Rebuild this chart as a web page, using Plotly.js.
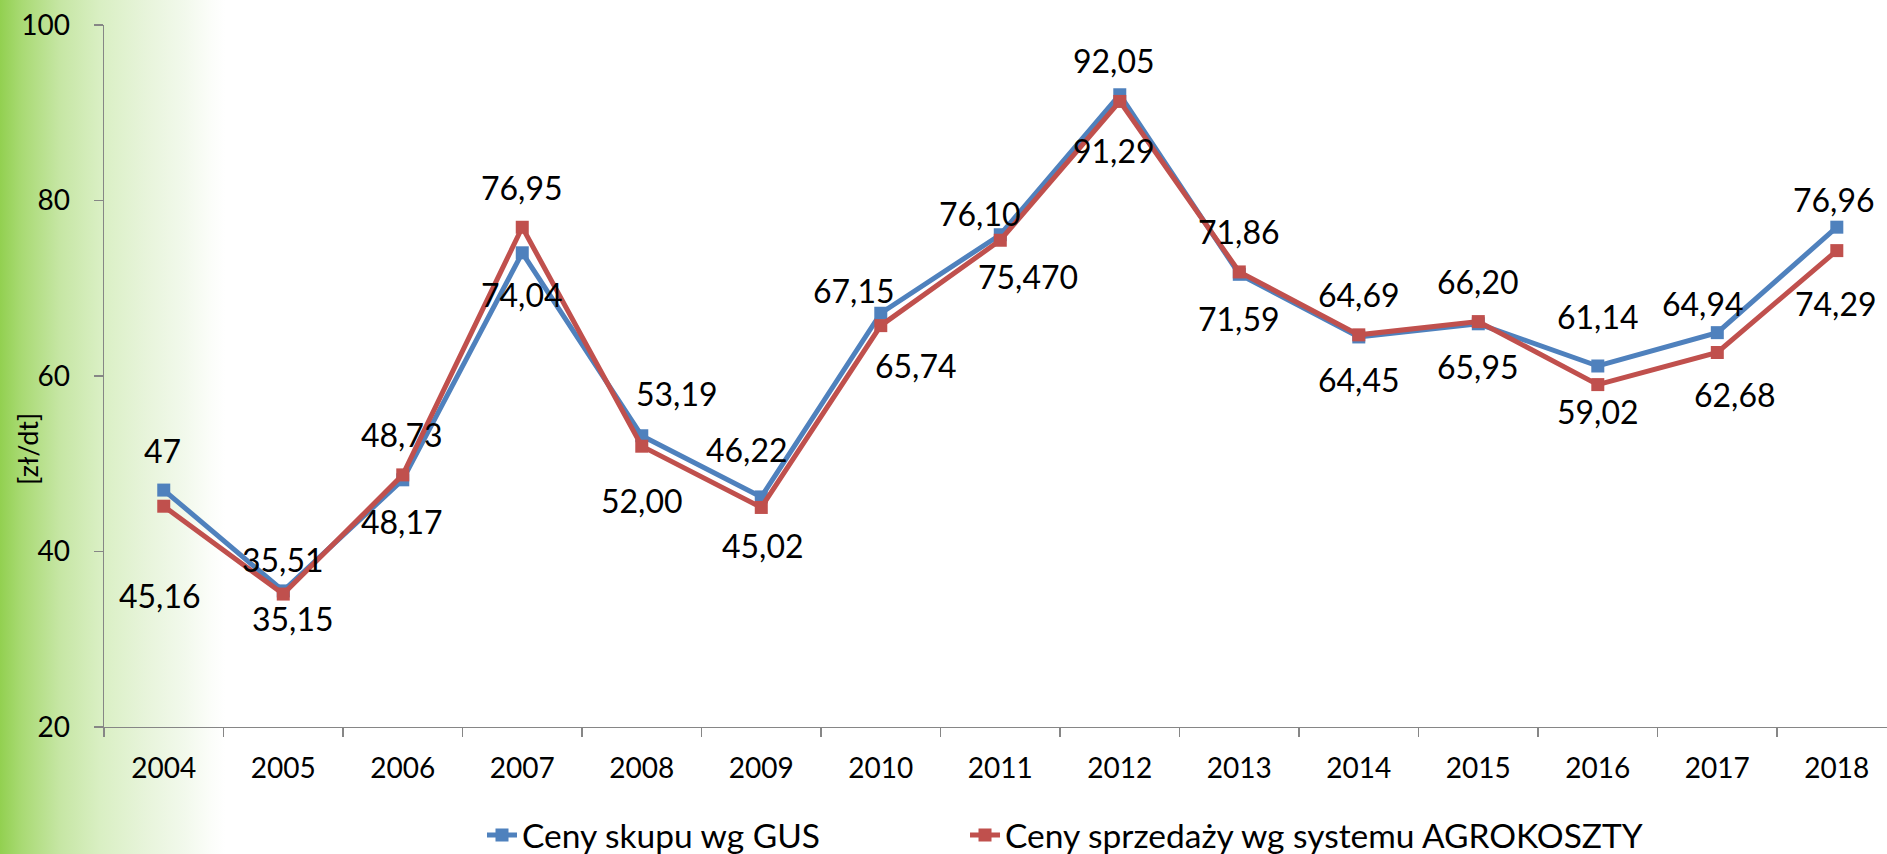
<!DOCTYPE html>
<html>
<head>
<meta charset="utf-8">
<script src="https://cdn.plot.ly/plotly-3.0.1.min.js"></script>
<style>
  html, body { margin: 0; padding: 0; background: #ffffff; }
  #chart {
    width: 1887px; height: 854px;
    background: linear-gradient(to right, #92d050 0px, #a9da74 22px, #c6e6a4 60px, #d9efc3 100px, #e7f4da 145px, #f2f9ec 185px, #fbfdf9 210px, #ffffff 225px);
  }
</style>
</head>
<body>
<div id="chart"></div>
<script>
// ---- data ----
const years = ['2004','2005','2006','2007','2008','2009','2010','2011','2012','2013','2014','2015','2016','2017','2018'];
const gusPrices  = [47, 35.51, 48.17, 74.04, 53.19, 46.22, 67.15, 76.10, 92.05, 71.59, 64.45, 65.95, 61.14, 64.94, 76.96];
const agroPrices = [45.16, 35.15, 48.73, 76.95, 52.00, 45.02, 65.74, 75.47, 91.29, 71.86, 64.69, 66.20, 59.02, 62.68, 74.29];
const gusLabels  = ['47','35,51','48,17','74,04','53,19','46,22','67,15','76,10','92,05','71,59','64,45','65,95','61,14','64,94','76,96'];
const agroLabels = ['45,16','35,15','48,73','76,95','52,00','45,02','65,74','75,470','91,29','71,86','64,69','66,20','59,02','62,68','74,29'];
const seriesNames = ['Ceny skupu wg GUS', 'Ceny sprzedaży wg systemu AGROKOSZTY'];
const yTitle = '[zł/dt]';

// ---- label placement (pixel offsets from each point: [dx, dy down]) ----
const gusLabelOffset  = [[-1,-40],[0,-31],[-1,42],[0,42],[35,-42],[-14,-47],[-27,-23],[-20,-21],[-6,-34],[0,44],[0,43],[0,43],[0,-50],[-14,-29],[-3,-28]];
const agroLabelOffset = [[-4,89],[10,24],[-1,-40],[0,-40],[0,54],[2,38],[35,40],[28,36],[-6,49],[0,-40],[0,-40],[0,-40],[0,27],[18,42],[-1,53]];

const FONT = 'Lato, "Open Sans", "Noto Sans", sans-serif';
const BLUE = '#4f81bd';
const RED = '#c0504d';

const traces = [
  {
    x: years, y: gusPrices, name: seriesNames[0], type: 'scatter', mode: 'lines+markers',
    line: { color: BLUE, width: 5 },
    marker: { symbol: 'square', size: 13, color: BLUE },
    hoverinfo: 'skip', legend: 'legend'
  },
  {
    x: years, y: agroPrices, name: seriesNames[1], type: 'scatter', mode: 'lines+markers',
    line: { color: RED, width: 5 },
    marker: { symbol: 'square', size: 13, color: RED },
    hoverinfo: 'skip', legend: 'legend2'
  }
];

const annotations = [];
function addLabels(vals, labels, offs) {
  vals.forEach((v, i) => {
    annotations.push({
      x: i, y: v, xref: 'x', yref: 'y', text: labels[i], showarrow: false,
      xanchor: 'center', yanchor: 'middle',
      xshift: offs[i][0], yshift: -offs[i][1],
      font: { family: FONT, size: 32, color: '#000000' }
    });
  });
}
addLabels(gusPrices, gusLabels, gusLabelOffset);
addLabels(agroPrices, agroLabels, agroLabelOffset);

annotations.push({
  xref: 'paper', yref: 'paper', x: -0.0432, y: 0.396, text: yTitle, showarrow: false,
  textangle: -90, xanchor: 'center', yanchor: 'middle',
  font: { family: FONT, size: 27, color: '#000000' }
});

const legendStyle = {
  orientation: 'h', xanchor: 'left', y: -0.154, yanchor: 'middle',
  font: { family: FONT, size: 33.5, color: '#000000' },
  bgcolor: 'rgba(0,0,0,0)'
};

const layout = {
  width: 1887, height: 854,
  margin: { l: 104, r: 0, t: 25, b: 127, pad: 0, autoexpand: false },
  paper_bgcolor: 'rgba(0,0,0,0)',
  plot_bgcolor: 'rgba(0,0,0,0)',
  font: { family: FONT, size: 28, color: '#000000' },
  showlegend: true,
  legend: Object.assign({}, legendStyle, { x: 0.2120 }),
  legend2: Object.assign({}, legendStyle, { x: 0.4829 }),
  xaxis: {
    type: 'category', range: [-0.5, 14.42], tickson: 'boundaries',
    showline: true, linecolor: '#868686', linewidth: 1.3,
    ticks: 'outside', ticklen: 9, tickcolor: '#868686', tickwidth: 1.3,
    showgrid: false, zeroline: false, ticklabelstandoff: 16,
    tickfont: { family: FONT, size: 28, color: '#000000' }
  },
  yaxis: {
    range: [20, 100], dtick: 20, tick0: 20,
    showline: true, linecolor: '#868686', linewidth: 1.3,
    ticks: 'outside', ticklen: 9, tickcolor: '#868686', tickwidth: 1.3,
    showgrid: false, zeroline: false, ticklabelstandoff: 18,
    tickfont: { family: FONT, size: 28, color: '#000000' }
  },
  annotations: annotations
};

Plotly.newPlot('chart', traces, layout, { displayModeBar: false, staticPlot: true });
</script>
</body>
</html>
